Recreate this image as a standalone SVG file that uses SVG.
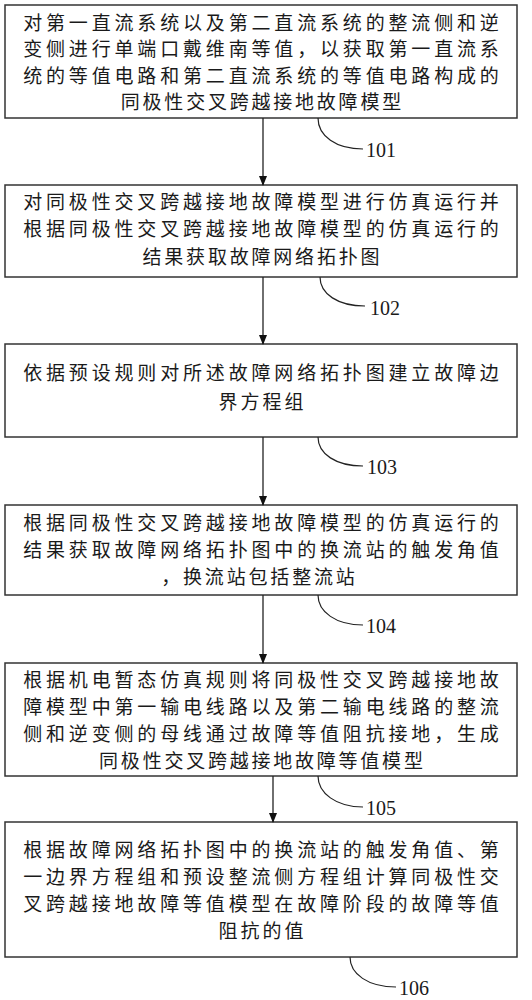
<svg xmlns="http://www.w3.org/2000/svg" width="532" height="1000" viewBox="0 0 532 1000">
<style>
.box{fill:#fff;stroke:#333;stroke-width:1.5}
.t{font-family:"Liberation Serif","Noto Sans CJK SC",serif;font-size:19px;fill:#1a1a1a;text-anchor:middle}
.n{font-family:"Liberation Serif",serif;font-size:20px;fill:#1a1a1a}
.c{fill:none;stroke:#222;stroke-width:1.3}
.lead{fill:none;stroke:#222;stroke-width:1.2}
</style>
<defs>
<marker id="ah" markerWidth="10" markerHeight="10" refX="9" refY="5" orient="auto" markerUnits="userSpaceOnUse">
<path d="M0,1 L10,5 L0,9 Z" fill="#111"/>
</marker>
</defs>
<rect width="532" height="1000" fill="#fff"/>
<g id="n101">
<rect class="box" x="5" y="5" width="512" height="113"/>
<text class="t" x="261" y="30" textLength="475.7" lengthAdjust="spacing">对第一直流系统以及第二直流系统的整流侧和逆</text>
<text class="t" x="261" y="56" textLength="475.7" lengthAdjust="spacing">变侧进行单端口戴维南等值，以获取第一直流系</text>
<text class="t" x="261" y="83" textLength="475.7" lengthAdjust="spacing">统的等值电路和第二直流系统的等值电路构成的</text>
<text class="t" x="261" y="109" textLength="280.4" lengthAdjust="spacing">同极性交叉跨越接地故障模型</text>
</g>
<g id="n102">
<rect class="box" x="5" y="185" width="512" height="92"/>
<text class="t" x="261" y="209" textLength="475.7" lengthAdjust="spacing">对同极性交叉跨越接地故障模型进行仿真运行并</text>
<text class="t" x="261" y="236" textLength="475.7" lengthAdjust="spacing">根据同极性交叉跨越接地故障模型的仿真运行的</text>
<text class="t" x="261" y="264" textLength="237" lengthAdjust="spacing">结果获取故障网络拓扑图</text>
</g>
<g id="n103">
<rect class="box" x="5" y="344" width="512" height="93"/>
<text class="t" x="261" y="380" textLength="475.7" lengthAdjust="spacing">依据预设规则对所述故障网络拓扑图建立故障边</text>
<text class="t" x="261" y="409" textLength="85.1" lengthAdjust="spacing">界方程组</text>
</g>
<g id="n104">
<rect class="box" x="5" y="505" width="512" height="90"/>
<text class="t" x="261" y="530" textLength="475.7" lengthAdjust="spacing">根据同极性交叉跨越接地故障模型的仿真运行的</text>
<text class="t" x="261" y="557" textLength="475.7" lengthAdjust="spacing">结果获取故障网络拓扑图中的换流站的触发角值</text>
<text class="t" x="258" y="584" textLength="193.6" lengthAdjust="spacing">，换流站包括整流站</text>
</g>
<g id="n105">
<rect class="box" x="5" y="663" width="512" height="113"/>
<text class="t" x="261" y="687" textLength="475.7" lengthAdjust="spacing">根据机电暂态仿真规则将同极性交叉跨越接地故</text>
<text class="t" x="261" y="714" textLength="475.7" lengthAdjust="spacing">障模型中第一输电线路以及第二输电线路的整流</text>
<text class="t" x="261" y="741" textLength="475.7" lengthAdjust="spacing">侧和逆变侧的母线通过故障等值阻抗接地，生成</text>
<text class="t" x="261" y="768" textLength="323.8" lengthAdjust="spacing">同极性交叉跨越接地故障等值模型</text>
</g>
<g id="n106">
<rect class="box" x="5" y="822" width="512" height="135"/>
<text class="t" x="261" y="857" textLength="475.7" lengthAdjust="spacing">根据故障网络拓扑图中的换流站的触发角值、第</text>
<text class="t" x="261" y="884" textLength="475.7" lengthAdjust="spacing">一边界方程组和预设整流侧方程组计算同极性交</text>
<text class="t" x="261" y="911" textLength="475.7" lengthAdjust="spacing">叉跨越接地故障等值模型在故障阶段的故障等值</text>
<text class="t" x="261" y="938" textLength="85.1" lengthAdjust="spacing">阻抗的值</text>
</g>
<g id="connectors">
<line class="c" x1="263" y1="118" x2="263" y2="185" marker-end="url(#ah)"/>
<line class="c" x1="263" y1="277" x2="263" y2="344" marker-end="url(#ah)"/>
<line class="c" x1="263" y1="437" x2="263" y2="505" marker-end="url(#ah)"/>
<line class="c" x1="263" y1="595" x2="263" y2="663" marker-end="url(#ah)"/>
<line class="c" x1="273" y1="776" x2="273" y2="822" marker-end="url(#ah)"/>
</g>
<g id="labels">
<path class="lead" d="M318,118 C318,136 336,149 363,149"/>
<text class="n" x="366" y="157">101</text>
<path class="lead" d="M320,277 C320,294 338,306 365,306"/>
<text class="n" x="370" y="315">102</text>
<path class="lead" d="M318,437 C318,454 336,466 363,466"/>
<text class="n" x="367" y="474">103</text>
<path class="lead" d="M318,595 C318,612 336,625 363,625"/>
<text class="n" x="366" y="633">104</text>
<path class="lead" d="M318,776 C318,793 336,807 363,807"/>
<text class="n" x="366" y="815">105</text>
<path class="lead" d="M350,957 C350,974 368,987 396,987"/>
<text class="n" x="399" y="995">106</text>
</g>
</svg>
